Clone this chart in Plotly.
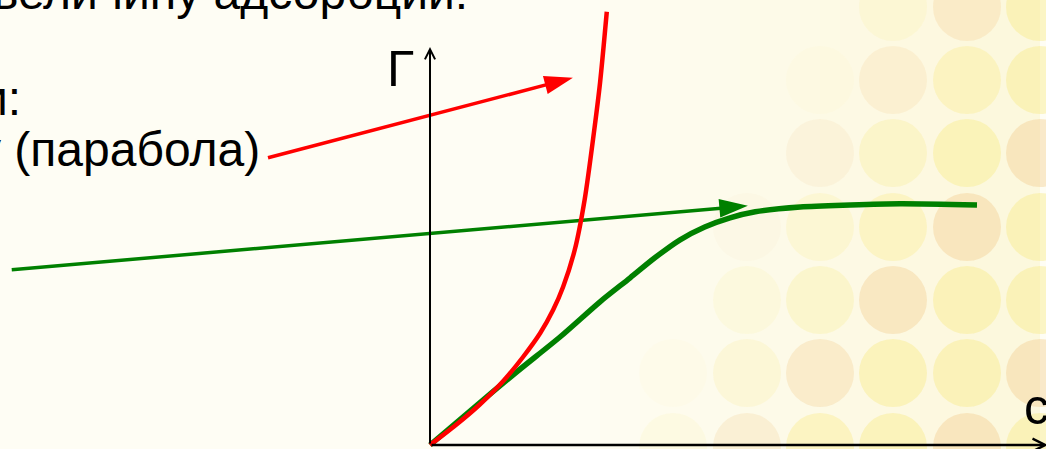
import plotly.graph_objects as go

# slide crop size and where the c / Г origin sits on it (pixels)
W, H = 1046, 449
X0, Y0 = 430, 445
SX, SY = 61.6, 40.0   # pixels per unit of c and of Г

# monomolecular (Langmuir) isotherm - green
c_green = [0, 0.65, 1.41, 2.11, 2.76, 3.25, 3.65, 4.06, 4.46, 4.87, 5.28, 6.01, 6.82, 7.63, 8.88]
g_green = [0, 0.85, 1.83, 2.70, 3.58, 4.18, 4.68, 5.13, 5.45, 5.68, 5.83, 5.95, 6.00, 6.03, 6.00]

# parabola-like isotherm - red
c_red = [0, 0.42, 0.80, 1.19, 1.51, 1.79, 2.00, 2.16, 2.35, 2.51, 2.66, 2.76, 2.87]
g_red = [0, 0.50, 1.00, 1.60, 2.20, 2.80, 3.38, 3.95, 4.88, 6.13, 7.80, 9.05, 10.83]

# pointer arrows from the slide text to the curves (tail, tip)
c_red_ptr = [-2.63, 2.32]
g_red_ptr = [7.18, 9.18]
c_green_ptr = [-6.79, 5.16]
g_green_ptr = [4.38, 5.98]

FONT = "Liberation Sans"


def paper(x, y):
    return x / W, 1 - y / H


fig = go.Figure()

shapes = []
# warm tint that grows towards the right edge of the slide
for k in range(24):
    xa = 560 + k * 20
    a = 0.30 * min(1.0, k / 20)
    x0, _ = paper(xa, 0)
    x1, _ = paper(xa + 20, 0)
    shapes.append(dict(type="rect", xref="paper", yref="paper", x0=x0, x1=x1, y0=0, y1=1,
                       layer="below", line=dict(width=0),
                       fillcolor="rgba(250,238,170,%.2f)" % a))

# faded pattern of circles on the right side of the slide background
cols = [527, 600, 673, 747, 820, 893, 967, 1040]
rows = [7, 80, 153, 227, 300, 373, 447]
for i, cx in enumerate(cols):
    for j, cy in enumerate(rows):
        s = (cx - (820 - 0.45 * cy)) / 220
        s = max(0.0, min(1.0, s))
        d = ((cx - 720) ** 2 + (cy - 40) ** 2) ** 0.5
        if d < 150:
            s *= d / 150
        if s <= 0.02:
            continue
        col = "rgba(249,236,140,%.2f)" if (i + j) % 3 else "rgba(244,208,150,%.2f)"
        x0, y0 = paper(cx - 34, cy - 34)
        x1, y1 = paper(cx + 34, cy + 34)
        shapes.append(dict(type="circle", xref="paper", yref="paper",
                           x0=x0, x1=x1, y0=y1, y1=y0, layer="below",
                           line=dict(width=0), fillcolor=col % (0.45 * s)))

fig.add_trace(go.Scatter(x=c_green, y=g_green, mode="lines",
                         line=dict(color="#008000", width=5.5, shape="spline", smoothing=0.8),
                         hoverinfo="skip"))
fig.add_trace(go.Scatter(x=c_green_ptr, y=g_green_ptr, mode="lines+markers",
                         line=dict(color="#008000", width=3.5),
                         marker=dict(symbol="arrow", size=[0, 30], angleref="previous",
                                     color="#008000", opacity=1, line=dict(width=0)),
                         hoverinfo="skip"))
fig.add_trace(go.Scatter(x=c_red, y=g_red, mode="lines",
                         line=dict(color="#ff0000", width=4.5, shape="spline", smoothing=0.8),
                         hoverinfo="skip"))
fig.add_trace(go.Scatter(x=c_red_ptr, y=g_red_ptr, mode="lines+markers",
                         line=dict(color="#ff0000", width=3.5),
                         marker=dict(symbol="arrow", size=[0, 30], angleref="previous",
                                     color="#ff0000", opacity=1, line=dict(width=0)),
                         hoverinfo="skip"))

annotations = []
# drawn axes with open arrow heads
annotations.append(dict(x=0, y=(Y0 - 47) / SY, ax=0, ay=0, xref="x", yref="y",
                        axref="x", ayref="y", showarrow=True, arrowhead=5,
                        arrowwidth=2, arrowsize=1, arrowcolor="black", text=""))
annotations.append(dict(x=(W + 2 - X0) / SX, y=0, ax=0, ay=0, xref="x", yref="y",
                        axref="x", ayref="y", showarrow=True, arrowhead=5,
                        arrowwidth=2.5, arrowsize=1, arrowcolor="black", text=""))

texts = [
    ("величину адсорбции:", 470, 21, "right", 48),
    ("и:", 23, 127, "right", 48),
    ("у (парабола)", 262, 178, "right", 48),
    ("Г", 400, 99, "center", 50),
    ("c", 1022, 437, "left", 50),
]
for t, x, y, anchor, size in texts:
    px, py = paper(x, y)
    annotations.append(dict(text=t, x=px, y=py, xref="paper", yref="paper",
                            xanchor=anchor, yanchor="bottom", showarrow=False,
                            font=dict(family=FONT, size=size, color="black")))

fig.update_layout(
    width=W, height=H,
    margin=dict(l=0, r=0, t=0, b=0),
    paper_bgcolor="#fefdf4",
    plot_bgcolor="rgba(0,0,0,0)",
    showlegend=False,
    xaxis=dict(range=[-X0 / SX, (W - X0) / SX], visible=False, fixedrange=True),
    yaxis=dict(range=[(Y0 - H) / SY, Y0 / SY], visible=False, fixedrange=True),
    shapes=shapes,
    annotations=annotations,
)

fig.write_html("out.html", config={"displayModeBar": False},
               post_script="document.body.style.margin='0px';")
